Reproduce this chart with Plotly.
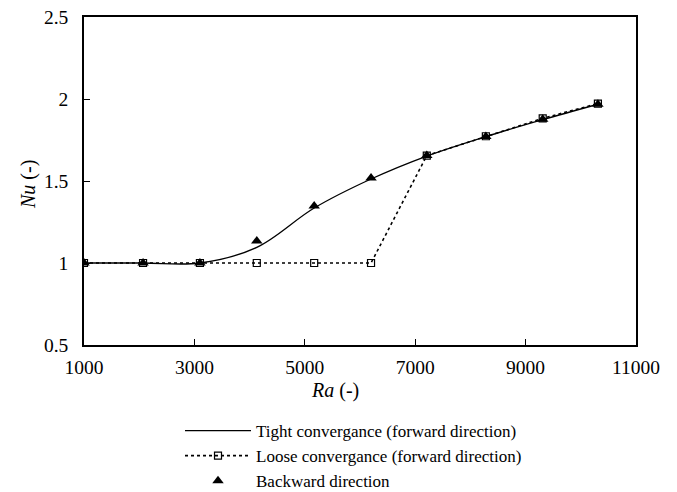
import plotly.graph_objects as go

# Rayleigh numbers of the simulated cases
ra = [1000, 2070, 3100, 4130, 5170, 6200, 7210, 8280, 9310, 10310]

# Nusselt numbers for each solution strategy
nu_tight = [1.0, 1.0, 1.0, 1.095, 1.335, 1.512, 1.652, 1.771, 1.874, 1.968]
nu_loose = [1.0, 1.0, 1.0, 1.0, 1.0, 1.0, 1.655, 1.773, 1.882, 1.972]
nu_backward = [1.0, 1.0, 1.0, 1.134, 1.348, 1.518, 1.655, 1.772, 1.876, 1.968]

x_ticks = [1000, 3000, 5000, 7000, 9000, 11000]
y_ticks = [0.5, 1, 1.5, 2, 2.5]

FONT = "Liberation Serif, Times New Roman, serif"

fig = go.Figure()

fig.add_trace(go.Scatter(
    x=ra, y=nu_tight, mode="lines",
    line=dict(color="black", width=1.3, shape="spline", smoothing=1.0),
    name="Tight convergance (forward direction)",
))
fig.add_trace(go.Scatter(
    x=ra, y=nu_loose, mode="lines+markers",
    line=dict(color="black", width=1.6, dash="dot"),
    marker=dict(symbol="square-open", size=7, color="black", line=dict(width=1.2)),
    name="Loose convergance (forward direction)",
))
fig.add_trace(go.Scatter(
    x=ra, y=nu_backward, mode="markers",
    marker=dict(symbol="triangle-up", size=10, color="black"),
    name="Backward direction",
))

L, R, T, B = 84, 41, 17, 147
W, H = 677, 492
pw, ph = W - L - R, H - T - B

fig.update_layout(
    width=W, height=H,
    margin=dict(l=L, r=R, t=T, b=B, autoexpand=False),
    paper_bgcolor="white", plot_bgcolor="white",
    font=dict(family=FONT, size=19.5, color="black"),
    showlegend=True,
    legend=dict(
        x=(180 - L) / pw, y=(345 - 413) / ph, xanchor="left", yanchor="top",
        font=dict(family=FONT, size=17, color="black"),
        bgcolor="rgba(0,0,0,0)", tracegroupgap=0, itemwidth=66,
    ),
    annotations=[
        dict(text="<i>Ra</i> (-)", xref="paper", yref="paper",
             x=(335 - L) / pw, y=(345 - 390) / ph, xanchor="center", yanchor="middle",
             showarrow=False, font=dict(family=FONT, size=20, color="black")),
        dict(text="<i>Nu</i> (-)", xref="paper", yref="paper",
             x=(28 - L) / pw, y=(345 - 185) / ph, xanchor="center", yanchor="middle",
             showarrow=False, textangle=-90,
             font=dict(family=FONT, size=20, color="black")),
    ],
)

fig.update_xaxes(
    range=[1000, 11000], tickvals=x_ticks, ticktext=[str(v) for v in x_ticks],
    ticks="inside", ticklen=6, tickwidth=1, tickcolor="black",
    showline=True, linecolor="black", linewidth=1.5, mirror=True,
    showgrid=False, zeroline=False, ticklabelstandoff=4,
)
fig.update_yaxes(
    range=[0.5, 2.5], tickvals=y_ticks, ticktext=["0.5", "1", "1.5", "2", "2.5"],
    ticks="inside", ticklen=6, tickwidth=1, tickcolor="black",
    showline=True, linecolor="black", linewidth=1.5, mirror=True,
    showgrid=False, zeroline=False, ticklabelstandoff=10,
)

fig.write_html("out.html")
